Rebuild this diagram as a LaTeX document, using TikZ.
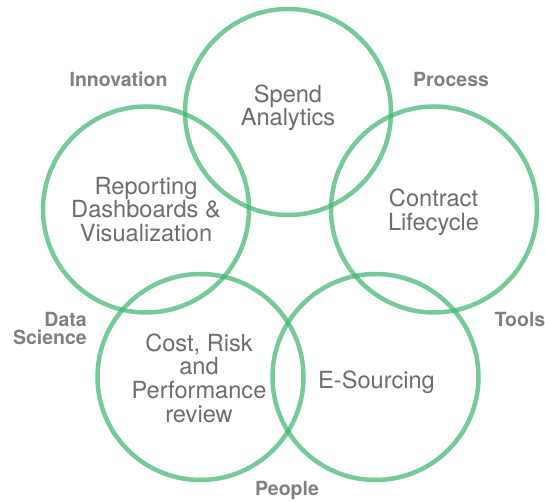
\documentclass[tikz,border=0pt]{standalone}
\usepackage{fontspec}
\setmainfont{TeX Gyre Heros}
\definecolor{ringgreen}{RGB}{60,180,110}
\definecolor{maintext}{RGB}{108,108,113}
\definecolor{labeltext}{RGB}{128,128,128}
\begin{document}
\begin{tikzpicture}[x=1pt,y=1pt,
  ring/.style={circle, draw=ringgreen, draw opacity=0.7, line width=4.5pt, minimum size=206pt, inner sep=0pt},
  maintxt/.style={align=center, inner sep=0pt, text=maintext, font=\fontsize{23.6}{23.8}\selectfont},
  lbl/.style={inner sep=0pt, text=labeltext, font=\bfseries\fontsize{19.5}{18}\selectfont}]
\useasboundingbox (0,0) rectangle (545,502);
% circles
\node[ring] (c1) at (288,390) {};
\node[ring] (c2) at (146,292.5) {};
\node[ring] (c3) at (434,292.5) {};
\node[ring] (c4) at (200.5,125) {};
\node[ring] (c5) at (375.5,125) {};
% circle texts
\node[maintxt] (t1) at (288,394.3) {Spend\\Analytics};
\node[maintxt] (t2) at (146,292.6) {Reporting\\Dashboards \&\\Visualization};
\node[maintxt] (t3) at (433.5,289.6) {Contract\\Lifecycle};
\node[maintxt] (t4) at (199,123.9) {Cost, Risk\\and\\Performance\\review};
\node[maintxt] (t5) at (376.5,119.9) {E-Sourcing};
% labels
\node[lbl, anchor=base] (l1) at (118.5,415.3) {Innovation};
\node[lbl, anchor=base] (l2) at (451,415.3) {Process};
\node[lbl, anchor=base] (l3) at (520,175.3) {Tools};
\node[lbl, anchor=base] (l4) at (287,6.3) {People};
\node[lbl, anchor=north east, align=right] (l5) at (87,190) {Data\\Science};
\end{tikzpicture}
\end{document}
